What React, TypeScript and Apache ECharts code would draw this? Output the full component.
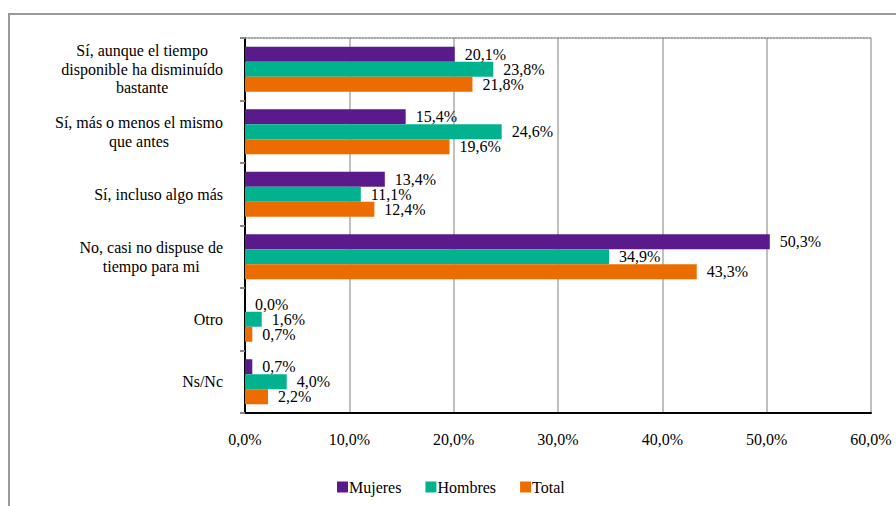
import React, { useEffect, useRef } from "react";
import * as echarts from "echarts";

const categories = [
  "Sí, aunque el tiempo\ndisponible ha disminuído\nbastante",
  "Sí, más o menos el mismo\nque antes",
  "Sí, incluso algo más",
  "No, casi no dispuse de\ntiempo para mi",
  "Otro",
  "Ns/Nc",
];
const mujeres = [20.1, 15.4, 13.4, 50.3, 0.0, 0.7];
const hombres = [23.8, 24.6, 11.1, 34.9, 1.6, 4.0];
const total = [21.8, 19.6, 12.4, 43.3, 0.7, 2.2];
const seriesNames = ["Mujeres", "Hombres", "Total"];
const colors = ["#5b1a8b", "#00b38e", "#ec6c00"];

const FONT = "Liberation Serif, Times New Roman, serif";
const fmt = (v: number) => v.toFixed(1).replace(".", ",") + "%";

export default function App() {
  const ref = useRef<HTMLDivElement>(null);
  useEffect(() => {
    if (!ref.current) return;
    const chart = echarts.init(ref.current, undefined, { renderer: "svg" });
    const mk = (name: string, data: number[], color: string) => ({
      name,
      type: "bar",
      data,
      barGap: "0%",
      barCategoryGap: "28%",
      itemStyle: { color },
      label: {
        show: true,
        position: "right",
        distance: 10,
        formatter: (p: any) => fmt(p.value),
        fontFamily: FONT,
        fontSize: 16,
        color: "#000",
      },
    });
    chart.setOption({
      animation: false,
      textStyle: { fontFamily: FONT },
      graphic: [
        {
          type: "rect",
          shape: { x: 9, y: 14, width: 1000, height: 600 },
          style: { fill: "none", stroke: "#999", lineWidth: 2 },
          silent: true,
        },
      ],
      legend: {
        data: seriesNames,
        left: 337,
        top: 479,
        padding: 0,
        icon: "rect",
        itemWidth: 11,
        itemHeight: 11,
        itemGap: 24,
        textStyle: { fontFamily: FONT, fontSize: 16, color: "#000", padding: [0, 0, 0, -4] },
      },
      grid: { left: 245, right: 25, top: 38, bottom: 93, containLabel: false },
      xAxis: [
        {
          type: "value",
          min: 0,
          max: 60,
          interval: 10,
          axisLine: { show: true, lineStyle: { color: "#000", width: 2 } },
          axisTick: { show: false },
          axisLabel: {
            formatter: (v: number) => fmt(v),
            fontFamily: FONT,
            fontSize: 16,
            color: "#000",
            margin: 18,
          },
          splitLine: { show: true, lineStyle: { color: "#c0c0c0", width: 2 } },
        },
        {
          type: "value",
          position: "top",
          min: 0,
          max: 60,
          interval: 10,
          axisLine: { show: true, lineStyle: { color: "#888", width: 1.5, type: "dotted" } },
          axisTick: { show: false },
          axisLabel: { show: false },
          splitLine: { show: false },
        },
      ],
      yAxis: [
        {
          type: "category",
          data: categories,
          inverse: true,
          axisLine: { show: true, lineStyle: { color: "#888", width: 2 } },
          axisTick: { show: true, length: 5, lineStyle: { color: "#888", width: 2 } },
          axisLabel: {
            margin: 22,
            align: "right",
            fontFamily: FONT,
            fontSize: 16,
            color: "#000",
            lineHeight: 18.5,
            formatter: (v: string) =>
              v
                .split("\n")
                .map((l) => "{c|" + l + "}")
                .join("\n"),
            rich: {
              c: {
                align: "center",
                fontFamily: FONT,
                fontSize: 16,
                color: "#000",
                lineHeight: 18.5,
              },
            },
          },
        },
        {
          type: "category",
          data: categories,
          inverse: true,
          position: "right",
          axisLine: { show: true, lineStyle: { color: "#000", width: 2 } },
          axisTick: { show: false },
          axisLabel: { show: false },
        },
      ],
      series: [
        mk(seriesNames[0], mujeres, colors[0]),
        mk(seriesNames[1], hombres, colors[1]),
        mk(seriesNames[2], total, colors[2]),
      ],
    });
    return () => chart.dispose();
  }, []);
  return (
    <div
      ref={ref}
      style={{ position: "fixed", left: 0, top: 0, width: 896, height: 506, background: "#fff" }}
    />
  );
}
